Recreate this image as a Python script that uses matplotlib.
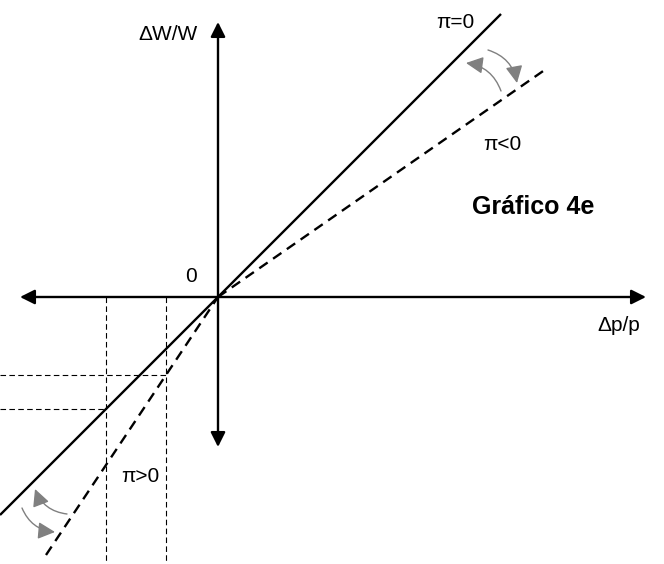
import matplotlib
matplotlib.use("Agg")
import matplotlib.pyplot as plt
from matplotlib.patches import FancyArrowPatch

plt.rcParams['font.family'] = ['Liberation Sans', 'DejaVu Sans']

# Wage-price relation: slope of ΔW/W against Δp/p for each inflation regime
slope_zero = 1.0        # π = 0
slope_neg = 0.695       # π < 0 (upper branch)
slope_pos = 1.5         # π > 0 (lower branch)

# Extents of each line along Δp/p
solid_x = [-2.18, 2.83]
neg_x = [0.0, 3.25]
pos_x = [-1.72, 0.0]

# Reference price changes marked with guide lines
guide_x = [-1.12, -0.52]

labels = {
    "yaxis": "\u0394W/W",
    "xaxis": "\u0394p/p",
    "origin": "0",
    "zero": "\u03c0=0",
    "neg": "\u03c0<0",
    "pos": "\u03c0>0",
    "title": "Gr\u00e1fico 4e",
}

fig = plt.figure(figsize=(6.64, 5.64), dpi=100)
ax = fig.add_axes([0, 0, 1, 1])
ax.set_xlim(-2.18, 4.46)
ax.set_ylim(-2.67, 2.97)
ax.axis('off')

# Axes with arrowheads at both ends
axis_kw = dict(arrowstyle='<|-|>', mutation_scale=22, color='black',
               lw=1.7, shrinkA=0, shrinkB=0)
ax.add_patch(FancyArrowPatch((-1.98, 0), (4.28, 0), **axis_kw))
ax.add_patch(FancyArrowPatch((0, -1.50), (0, 2.75), **axis_kw))

# π = 0 line
ax.plot(solid_x, [slope_zero * x for x in solid_x], color='black', lw=1.7,
        solid_capstyle='butt')
# π < 0 and π > 0 branches
ax.plot(neg_x, [slope_neg * x for x in neg_x], color='black', lw=1.7,
        linestyle=(0, (4.3, 2.8)))
ax.plot(pos_x, [slope_pos * x for x in pos_x], color='black', lw=1.7,
        linestyle=(0, (4.3, 2.8)))

# Guide lines: vertical from the Δp/p axis, horizontal to the ΔW/W values
guide_slopes = [slope_zero, slope_pos]
for gx, s in zip(guide_x, guide_slopes):
    ax.plot([gx, gx], [0, -2.67], color='black', lw=0.8,
            linestyle=(0, (5, 3)))
    ax.plot([-2.18, gx], [s * gx, s * gx], color='black', lw=0.8,
            linestyle=(0, (5, 3)))

# Rotation arrows between the lines
rot_kw = dict(arrowstyle='-|>', mutation_scale=26, color='#808080',
              lw=1.0, shrinkA=0, shrinkB=0)
ax.add_patch(FancyArrowPatch((2.70, 2.47), (2.99, 2.14),
                             connectionstyle='arc3,rad=-0.3', **rot_kw))
ax.add_patch(FancyArrowPatch((2.83, 2.06), (2.48, 2.34),
                             connectionstyle='arc3,rad=0.3', **rot_kw))
ax.add_patch(FancyArrowPatch((-1.96, -2.11), (-1.63, -2.35),
                             connectionstyle='arc3,rad=0.3', **rot_kw))
ax.add_patch(FancyArrowPatch((-1.51, -2.17), (-1.83, -1.92),
                             connectionstyle='arc3,rad=-0.3', **rot_kw))

fs = 15
ax.text(-0.50, 2.63, labels["yaxis"], fontsize=fs, ha='center', va='center')
ax.text(4.01, -0.28, labels["xaxis"], fontsize=fs, ha='center', va='center')
ax.text(-0.265, 0.21, labels["origin"], fontsize=fs, ha='center', va='center')
ax.text(2.37, 2.74, labels["zero"], fontsize=fs, ha='center', va='center')
ax.text(2.84, 1.53, labels["neg"], fontsize=fs, ha='center', va='center')
ax.text(-0.78, -1.80, labels["pos"], fontsize=fs, ha='center', va='center')
ax.text(3.15, 0.90, labels["title"], fontsize=18, fontweight='bold',
        ha='center', va='center')

fig.savefig("out.png", dpi=100)
